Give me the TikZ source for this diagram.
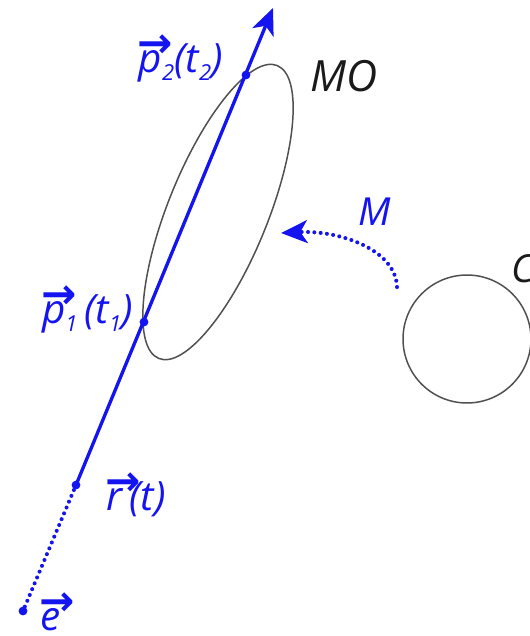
\documentclass[tikz,border=0pt]{standalone}
\usepackage{fontspec}
\setmainfont{Open Sans}
\newfontfamily\arrowfont{DejaVu Sans}
\usetikzlibrary{arrows.meta,shapes.geometric}
\definecolor{vecBlue}{HTML}{1414F0}
\definecolor{shapeGrey}{HTML}{505050}
\definecolor{objBlack}{HTML}{1A1A1A}
\newcommand\vecsym[1]{\rlap{\kern-0.02em\raisebox{8.5pt}{\fontsize{24}{24}\arrowfont\upshape\bfseries →}}#1}
\newcommand\idx[1]{\raisebox{-0.22em}{\fontsize{12.5}{13}\selectfont #1}}

\begin{document}
\begin{tikzpicture}[x=0.02cm,y=-0.02cm,
  ray/.style={vecBlue,line width=1.9pt},
  raydots/.style={vecBlue,line width=2.3pt,line cap=round,dash pattern=on 0pt off 3.6pt},
  dot/.style={circle,fill=vecBlue,inner sep=0pt,minimum size=5pt},
  vlbl/.style={vecBlue,inner sep=0pt,font=\fontsize{23}{27}\selectfont\itshape},
  objlbl/.style={objBlack,inner sep=0pt,font=\fontsize{22}{26}\selectfont\itshape},
  outline/.style={draw=shapeGrey,line width=0.85pt,inner sep=0pt},
  bigtip/.style={-{Stealth[length=15pt,width=13pt,inset=4pt]}}
]
  \useasboundingbox (0,0) rectangle (529,636);

  % --- objects: transformed MO and original C ---
  \node[outline,ellipse,rotate=68,minimum width=6.32cm,minimum height=2cm] (MO) at (218,212) {};
  \node[outline,circle,minimum size=2.56cm] (C) at (467,339) {};
  \node[objlbl,anchor=base west,font=\fontsize{24.5}{28}\selectfont\itshape] (MOlbl) at (310,91) {MO};
  \node[objlbl,anchor=base west] (Clbl) at (511,282) {C};

  % --- transformation M (dotted) ---
  \coordinate (Mstart) at (397,287);
  \coordinate (Mend)   at (281,233);
  \draw[raydots,bigtip] (Mstart) .. controls (396,250) and (340,230) .. (Mend);
  \node[vlbl,anchor=base west,font=\fontsize{22}{26}\selectfont\itshape] (Mlbl) at (358,225) {M};

  % --- ray from eye through MO ---
  \node[dot] (e)  at (23,611) {};
  \node[dot] (r)  at (76,485) {};
  \node[dot] (p1) at (144,322) {};
  \node[dot] (p2) at (246,75) {};
  \coordinate (tip) at (273,8);
  \draw[raydots] (e) -- (r);
  \draw[ray,bigtip] (r.center) -- (tip);

  \node[vlbl,anchor=base west] (elbl)  at (40,630)  {\vecsym{e}};
  \node[vlbl,anchor=base east] (rlbl)  at (166,510) {\vecsym{r}\,(t)};
  \node[vlbl,anchor=base east] (p1lbl) at (133,323) {\vecsym{p\idx{1}}\,(t\idx{1})};
  \node[vlbl,anchor=base east] (p2lbl) at (223,72)  {\vecsym{p\idx{2}}(t\idx{2})};
\end{tikzpicture}
\end{document}
